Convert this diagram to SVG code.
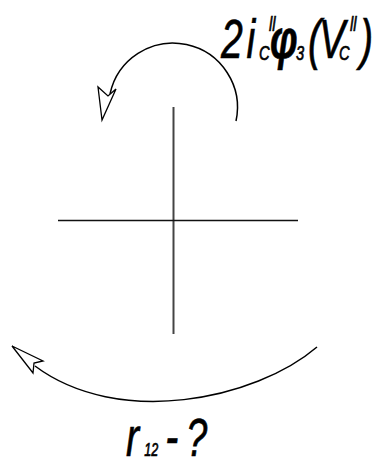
<svg xmlns="http://www.w3.org/2000/svg" width="380" height="464" viewBox="0 0 380 464">
<style>
.ax{stroke-linecap:butt;fill:none}
.arc{fill:none;stroke:#000;stroke-width:1.5}
.head{fill:#fff;stroke:#000;stroke-width:1.3;stroke-linejoin:miter}
.t{font-family:"Liberation Sans",Arial,sans-serif;font-style:italic;fill:#000;stroke:#000;stroke-width:0.7}
</style>
<rect width="380" height="464" fill="#fff"/>
<g id="axes">
<line class="ax" x1="173.5" y1="107" x2="173.5" y2="334" stroke="#444" stroke-width="2"/>
<line class="ax" x1="58" y1="220.5" x2="298" y2="220.5" stroke="#111" stroke-width="1.6"/>
</g>
<g id="connectors">
<path class="arc" d="M236,121 A64,64 0 0 0 110,94"/>
<polygon class="head" points="102,120 98,87 108,96 116,89"/>
<path class="arc" d="M317,347 C255,400 118,428 35,366"/>
<polygon class="head" points="12,346 43,361 34,363 33,373"/>
</g>
<g id="label-top">
<text class="t" transform="scale(0.7,1)"><tspan x="315.7" y="58" font-size="56">2</tspan><tspan x="352" y="58" font-size="56">i</tspan><tspan x="370" y="60" font-size="21">C</tspan><tspan x="384.3" y="31" font-size="21">ll</tspan><tspan x="385.7" y="58" font-size="56" font-weight="bold">φ</tspan><tspan x="422.9" y="60" font-size="21">3</tspan><tspan x="440" y="58" font-size="56">(</tspan><tspan x="455.7" y="58" font-size="56">V</tspan><tspan x="484.3" y="60" font-size="21">C</tspan><tspan x="500" y="31" font-size="21">ll</tspan><tspan x="514.3" y="58" font-size="56">)</tspan></text>
</g>
<g id="label-bottom">
<text class="t" transform="scale(0.7,1)"><tspan x="180" y="456" font-size="56">r</tspan><tspan x="206" y="456" font-size="18">12</tspan><tspan x="236" y="456" font-size="56">-</tspan><tspan x="266" y="456" font-size="54">?</tspan></text>
</g>
</svg>
